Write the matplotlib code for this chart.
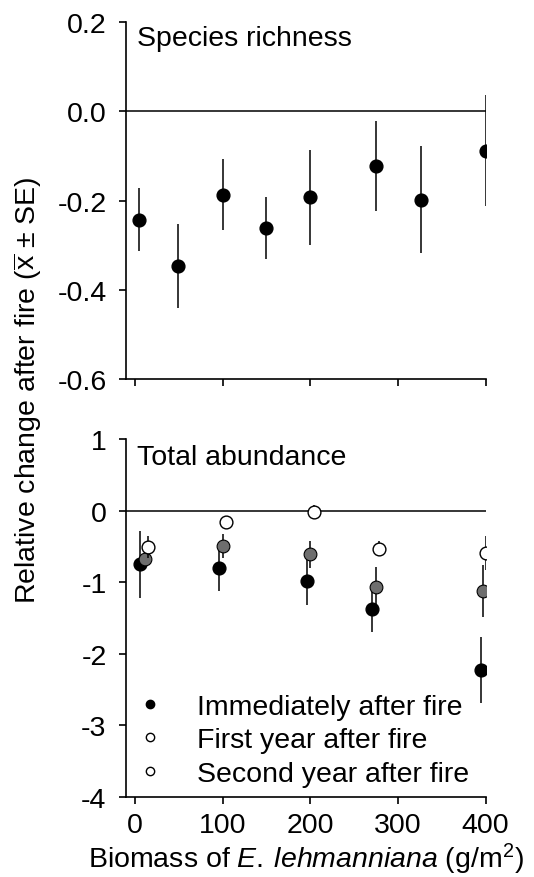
import matplotlib
matplotlib.use("Agg")
import matplotlib.pyplot as plt
from matplotlib.lines import Line2D

plt.rcParams['font.family'] = ['Liberation Sans', 'DejaVu Sans']
plt.rcParams['mathtext.fontset'] = 'custom'
plt.rcParams['mathtext.rm'] = 'Liberation Sans'
plt.rcParams['mathtext.it'] = 'Liberation Sans:italic'
plt.rcParams['axes.unicode_minus'] = False

# species richness
rich_x = [4, 49, 100, 150, 200, 275, 326, 400]
rich_y = [-0.243, -0.347, -0.187, -0.261, -0.193, -0.123, -0.198, -0.088]
rich_se = [0.070, 0.094, 0.079, 0.069, 0.107, 0.101, 0.120, 0.124]

# total abundance
imm_x = [6, 96, 196, 271, 395]
imm_y = [-0.75, -0.80, -0.98, -1.37, -2.22]
imm_se = [0.47, 0.32, 0.34, 0.33, 0.46]
first_x = [11, 100, 200, 275, 397]
first_y = [-0.68, -0.49, -0.61, -1.06, -1.12]
first_se = [0.12, 0.17, 0.19, 0.27, 0.36]
second_x = [15, 104, 204, 279, 400]
second_y = [-0.51, -0.16, -0.02, -0.53, -0.59]
second_se = [0.15, 0.05, 0.10, 0.10, 0.24]

legend_labels = ['Immediately after fire', 'First year after fire', 'Second year after fire']
xticks = [0, 100, 200, 300, 400]
rich_ticks = [0.2, 0.0, -0.2, -0.4, -0.6]
abund_ticks = [1, 0, -1, -2, -3, -4]

fs = 20.5
fig = plt.figure(figsize=(5.34, 8.78), dpi=100)
ax1 = fig.add_axes([0.236, 0.5672, 0.674, 0.4066])
ax2 = fig.add_axes([0.236, 0.0911, 0.674, 0.4077])

for ax in (ax1, ax2):
    ax.spines['top'].set_visible(False)
    ax.spines['right'].set_visible(False)
    ax.spines['left'].set_linewidth(1.2)
    ax.spines['bottom'].set_linewidth(1.2)
    ax.tick_params(direction='out', length=5, width=1.2, labelsize=fs)
    ax.tick_params(axis='y', pad=9)
    ax.tick_params(axis='x', pad=6)
    ax.set_xlim(-10.3, 400.5)
    ax.set_xticks(xticks)
    ax.axhline(0, color='black', lw=1.1, zorder=1)

ms = 9.2
ax1.errorbar(rich_x, rich_y, yerr=rich_se, fmt='o', color='black', ms=ms,
             elinewidth=1.1, capsize=0, zorder=3)
ax1.set_ylim(-0.6, 0.2)
ax1.set_yticks(rich_ticks)
ax1.set_yticklabels(['%.1f' % t for t in rich_ticks])
ax1.set_xticklabels([])
ax1.text(0.03, 0.955, 'Species richness', transform=ax1.transAxes, fontsize=fs,
         va='center', ha='left')

ax2.errorbar(imm_x, imm_y, yerr=imm_se, fmt='o', color='black', ms=ms,
             elinewidth=1.1, capsize=0, zorder=3)
ax2.errorbar(first_x, first_y, yerr=first_se, fmt='o', color='black', mfc='#6e6e6e',
             mec='black', mew=0.8, ms=ms, elinewidth=1.1, capsize=0, zorder=4)
ax2.errorbar(second_x, second_y, yerr=second_se, fmt='o', color='black', mfc='white',
             mec='black', mew=1.0, ms=ms, elinewidth=1.1, capsize=0, zorder=5)
ax2.set_ylim(-4, 1)
ax2.set_yticks(abund_ticks)
ax2.set_yticklabels([str(t) for t in abund_ticks])
ax2.text(0.03, 0.95, 'Total abundance', transform=ax2.transAxes, fontsize=fs,
         va='center', ha='left')
ax2.set_xlabel(r'Biomass of $\it{E.\:lehmanniana}$ (g/m$^2$)', fontsize=fs, labelpad=2)

handles = [
    Line2D([], [], ls='none', marker='o', ms=6, mfc='black', mec='black'),
    Line2D([], [], ls='none', marker='o', ms=6, mfc='white', mec='black'),
    Line2D([], [], ls='none', marker='o', ms=6, mfc='white', mec='black'),
]
ax2.legend(handles, legend_labels, loc='lower left', bbox_to_anchor=(0.035, 0.028),
           frameon=False, fontsize=fs, handlelength=0.8, handletextpad=1.25,
           labelspacing=0.27, borderpad=0, borderaxespad=0)

fig.text(0.053, 0.556, r'Relative change after fire ($\overline{\mathrm{x}}$ ± SE)',
         rotation=90, fontsize=fs, ha='center', va='center')

fig.savefig('out.png', dpi=100)
